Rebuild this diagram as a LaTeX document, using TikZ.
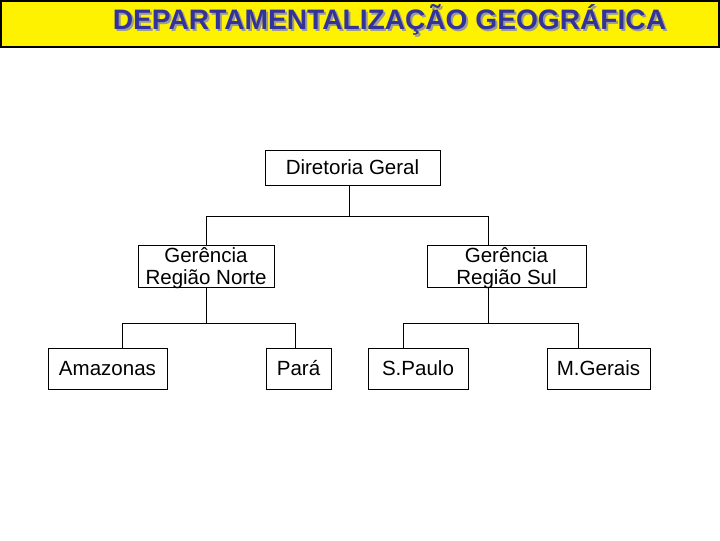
\documentclass[tikz,border=0pt]{standalone}
\usepackage{fontspec}
\setmainfont{Liberation Sans}
\definecolor{titleblue}{HTML}{333399}
\definecolor{shadowgray}{HTML}{9A9A9A}
\tikzset{
  box/.style={draw=black, line width=0.75pt, fill=white, inner sep=0pt, outer sep=0pt,
    align=center, font=\fontsize{15.4}{17}\selectfont},
  conn/.style={draw=black, line width=0.75pt},
  titletext/.style={font=\fontsize{21.1}{24}\selectfont\bfseries, inner sep=0pt}
}
\newcommand{\twolines}[2]{\raisebox{-14pt}[0pt][0pt]{\begin{tabular}[b]{@{}c@{}}#1\\#2\end{tabular}}}
\begin{document}
\begin{tikzpicture}[x=0.75pt, y=-0.75pt]
\useasboundingbox (0,0) rectangle (720,540);
\fill[white] (0,0) rectangle (720,540);
% title bar
\draw[fill=yellow, draw=black, line width=1.5pt] (1,1) rectangle (719,47);
\node[titletext, text=shadowgray] (tshadow) at (391.5,22) {DEPARTAMENTALIZAÇÃO GEOGRÁFICA};
\node[titletext, text=titleblue] (title) at (389.5,20) {DEPARTAMENTALIZAÇÃO GEOGRÁFICA};
% nodes
\node[box, minimum width=131.25pt, minimum height=26.25pt] (dg) at (352.5,167.5) {Diretoria Geral};
\node[box, minimum width=102pt, minimum height=31.5pt] (norte) at (206,266) {\twolines{Gerência}{Região Norte}};
\node[box, minimum width=119.25pt, minimum height=31.5pt] (sul) at (506.5,266) {\twolines{Gerência}{Região Sul}};
\node[box, minimum width=89.25pt, minimum height=30.75pt] (am) at (107.5,368.5) {Amazonas};
\node[box, minimum width=48.75pt, minimum height=30.75pt] (pa) at (298.5,368.5) {Pará};
\node[box, minimum width=75pt, minimum height=30.75pt] (sp) at (418,368.5) {S.Paulo};
\node[box, minimum width=77.25pt, minimum height=30.75pt] (mg) at (598.5,368.5) {M.Gerais};
% bus coordinates
\coordinate (j0) at (349,216);
\coordinate (b1l) at (206,216);
\coordinate (b1r) at (488,216);
\coordinate (j1) at (206,323);
\coordinate (b2l) at (122,323);
\coordinate (b2r) at (295,323);
\coordinate (j2) at (488,323);
\coordinate (b3l) at (403,323);
\coordinate (b3r) at (578,323);
% connectors
\draw[conn] (dg.south -| j0) -- (j0);
\draw[conn] (b1l |- norte.north) -- (b1l) -- (b1r) -- (b1r |- sul.north);
\draw[conn] (norte.south -| j1) -- (j1);
\draw[conn] (b2l |- am.north) -- (b2l) -- (b2r) -- (b2r |- pa.north);
\draw[conn] (sul.south -| j2) -- (j2);
\draw[conn] (b3l |- sp.north) -- (b3l) -- (b3r) -- (b3r |- mg.north);
\end{tikzpicture}
\end{document}
